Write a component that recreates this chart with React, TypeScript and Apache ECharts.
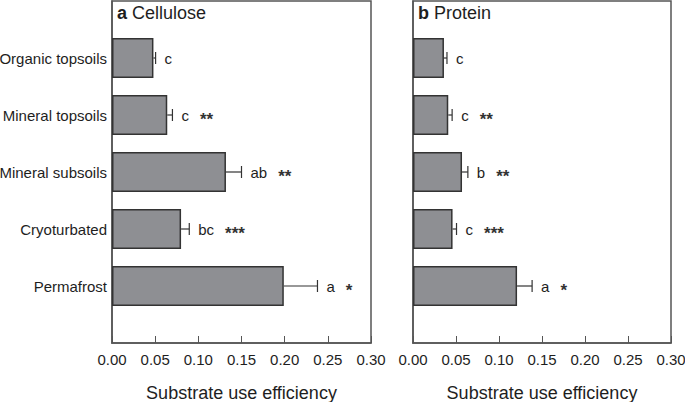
import React, { useEffect, useRef } from "react";
import * as echarts from "echarts";

const categories = ["Organic topsoils", "Mineral topsoils", "Mineral subsoils", "Cryoturbated", "Permafrost"];
const celluloseValues = [0.048, 0.064, 0.132, 0.080, 0.199];
const celluloseErrors = [0.0025, 0.006, 0.018, 0.0095, 0.039];
const celluloseLetters = ["c", "c", "ab", "bc", "a"];
const proteinValues = [0.036, 0.041, 0.057, 0.046, 0.121];
const proteinErrors = [0.0035, 0.0045, 0.0068, 0.0046, 0.0175];
const proteinLetters = ["c", "c", "b", "c", "a"];
const stars = ["", "**", "**", "***", "*"];
const xTicks = [0, 0.05, 0.1, 0.15, 0.2, 0.25, 0.3];
const panelTitles = [["a", "Cellulose"], ["b", "Protein"]];
const axisTitle = "Substrate use efficiency";

const FONT = "'Liberation Sans', Arial, Helvetica, sans-serif";
const TXT = "#1e1e1e";
const FRAME = "#555555";

let measureCtx: CanvasRenderingContext2D | null = null;
function textWidth(s: string, font: string) {
  if (!measureCtx) measureCtx = document.createElement("canvas").getContext("2d");
  if (!measureCtx) return s.length * 8;
  measureCtx.font = font;
  return measureCtx.measureText(s).width;
}

export default function App() {
  const ref = useRef<HTMLDivElement>(null);
  useEffect(() => {
    if (!ref.current) return;
    const chart = echarts.init(ref.current, null, { renderer: "svg" });
    const yCats = ["", ...categories, ""];
    const grids = [
      { left: 112, top: 1, width: 259, height: 342 },
      { left: 413, top: 1, width: 258, height: 342 },
    ];
    const panels = [
      { values: celluloseValues, errors: celluloseErrors, letters: celluloseLetters },
      { values: proteinValues, errors: proteinErrors, letters: proteinLetters },
    ];
    const series: any[] = [];
    panels.forEach((p, i) => {
      series.push({
        type: "bar",
        xAxisIndex: i,
        yAxisIndex: i,
        barWidth: 40,
        data: ["-", ...p.values, "-"],
        itemStyle: { color: "#8e8f93", borderColor: "#333333", borderWidth: 1.5 },
        silent: true,
      });
      series.push({
        type: "custom",
        xAxisIndex: i,
        yAxisIndex: i,
        silent: true,
        encode: { x: 0, y: 1 },
        data: p.values.map((v, k) => [v, k + 1, p.errors[k], p.letters[k], stars[k]]),
        renderItem: (params: any, api: any) => {
          const v = api.value(0);
          const c = api.value(1);
          const e = api.value(2);
          const idx = params.dataIndex;
          const letter = p.letters[idx];
          const st = stars[idx];
          const a = api.coord([v, c]);
          const b = api.coord([v + e, c]);
          const lx = b[0] + 9;
          const lw = textWidth(letter, `15px ${FONT}`);
          const children: any[] = [
            { type: "line", shape: { x1: a[0], y1: a[1], x2: b[0], y2: b[1] }, style: { stroke: "#333", lineWidth: 1.2 } },
            { type: "line", shape: { x1: b[0], y1: b[1] - 6, x2: b[0], y2: b[1] + 6 }, style: { stroke: "#333", lineWidth: 1.2 } },
            {
              type: "text",
              style: { x: lx, y: a[1], text: letter, font: `15px ${FONT}`, fill: TXT, verticalAlign: "middle", align: "left" },
            },
          ];
          if (st) {
            children.push({
              type: "text",
              style: { x: lx + lw + 11, y: a[1] + 4, text: st, font: `bold 17px ${FONT}`, fill: "#333333", verticalAlign: "middle", align: "left" },
            });
          }
          return { type: "group", children };
        },
      });
    });

    const option: any = {
      animation: false,
      grid: grids.map((g) => ({
        ...g,
        show: true,
        borderColor: FRAME,
        borderWidth: 1.5,
        backgroundColor: "transparent",
        containLabel: false,
        outerBoundsMode: "none",
      })),
      xAxis: grids.map((_, i) => ({
        type: "value",
        gridIndex: i,
        min: 0,
        max: 0.3,
        interval: 0.05,
        splitLine: { show: false },
        axisLine: { show: true, lineStyle: { color: FRAME, width: 1.5 } },
        axisTick: { show: true, inside: true, length: 7, lineStyle: { color: FRAME, width: 1 } },
        axisLabel: {
          margin: 9,
          fontSize: 15,
          fontFamily: FONT,
          color: TXT,
          formatter: (v: number) => (xTicks.some((t) => Math.abs(t - v) < 1e-9) ? v.toFixed(2) : ""),
        },
        name: axisTitle,
        nameLocation: "middle",
        nameGap: 41,
        nameTextStyle: { fontSize: 18, fontFamily: FONT, color: TXT },
      })),
      yAxis: grids.map((_, i) => ({
        type: "category",
        gridIndex: i,
        data: yCats,
        inverse: true,
        boundaryGap: false,
        axisLine: { show: true, lineStyle: { color: FRAME, width: 1.5 } },
        axisTick: { show: false },
        splitLine: { show: false },
        axisLabel: {
          show: i === 0,
          interval: 0,
          margin: 5,
          fontSize: 15,
          fontFamily: FONT,
          color: TXT,
        },
      })),
      graphic: panelTitles.map((t, i) => ({
        type: "text",
        left: grids[i].left + 5,
        top: 4,
        style: {
          text: `{b|${t[0]}} ${t[1]}`,
          font: `18px ${FONT}`,
          fill: TXT,
          rich: { b: { fontWeight: "bold", fontSize: 18, fontFamily: FONT, fill: TXT } },
        },
      })),
      series,
    };
    chart.setOption(option);
    return () => chart.dispose();
  }, []);
  return (
    <div
      ref={ref}
      style={{ position: "fixed", left: 0, top: 0, width: 685, height: 402, background: "#ffffff" }}
    />
  );
}
